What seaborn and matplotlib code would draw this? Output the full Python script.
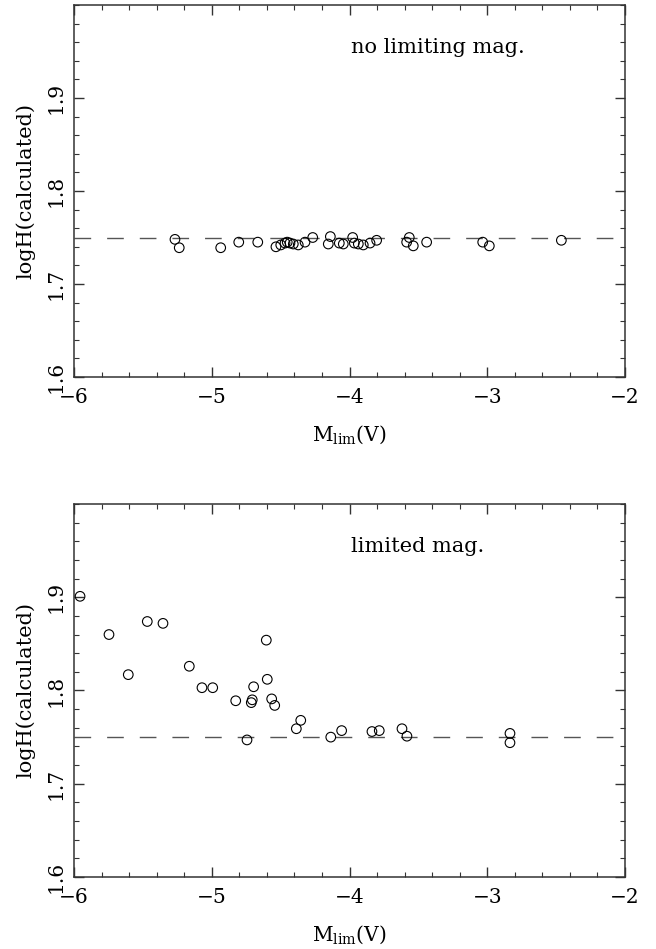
import matplotlib
matplotlib.use("Agg")
import matplotlib.pyplot as plt
import seaborn as sns
import pandas as pd
from matplotlib.ticker import MultipleLocator

# --- data ---
top_mlim = [-5.267, -5.236, -4.935, -4.804, -4.666, -4.534, -4.499, -4.468, -4.452,
            -4.432, -4.408, -4.372, -4.323, -4.267, -4.139, -4.154, -4.074, -4.045,
            -3.977, -3.965, -3.936, -3.900, -3.851, -3.803, -3.566, -3.585, -3.537,
            -3.440, -3.033, -2.985, -2.462]
top_logH = [1.748, 1.739, 1.739, 1.745, 1.745, 1.740, 1.742, 1.744, 1.745,
            1.744, 1.743, 1.742, 1.745, 1.750, 1.751, 1.743, 1.744, 1.743,
            1.750, 1.744, 1.743, 1.742, 1.744, 1.747, 1.750, 1.745, 1.741,
            1.745, 1.745, 1.741, 1.747]

bot_mlim = [-5.956, -5.746, -5.606, -5.468, -5.354, -5.163, -5.071, -4.993, -4.826,
            -4.744, -4.713, -4.706, -4.696, -4.604, -4.597, -4.565, -4.543, -4.386,
            -4.354, -4.136, -4.057, -3.837, -3.784, -3.619, -3.583, -2.835, -2.835]
bot_logH = [1.901, 1.860, 1.817, 1.874, 1.872, 1.826, 1.803, 1.803, 1.789,
            1.747, 1.787, 1.790, 1.804, 1.854, 1.812, 1.791, 1.784, 1.759,
            1.768, 1.750, 1.757, 1.756, 1.757, 1.759, 1.751, 1.754, 1.744]

ref_level = 1.75
panel_titles = ["no limiting mag.", "limited mag."]
xlabel = r"$\mathrm{M_{lim}(V)}$"
ylabel = "logH(calculated)"

sns.set_theme(style="ticks")
plt.rcParams["font.family"] = ["DejaVu Serif"]
plt.rcParams["mathtext.fontset"] = "dejavuserif"
plt.rcParams["text.color"] = "black"
plt.rcParams["axes.labelcolor"] = "black"

fig = plt.figure(figsize=(6.56, 9.49), dpi=100)
W, H = 656, 949
def axrect(l, t, r, b):
    return [l / W, 1 - b / H, (r - l) / W, (b - t) / H]

ax1 = fig.add_axes(axrect(74, 5, 625, 377))
ax2 = fig.add_axes(axrect(74, 504, 625, 877))

datasets = [(top_mlim, top_logH), (bot_mlim, bot_logH)]
for ax, (xs, ys), title in zip([ax1, ax2], datasets, panel_titles):
    df = pd.DataFrame({"M": xs, "logH": ys})
    ax.axhline(ref_level, color="#555555", lw=1.0, dashes=(12, 11.5), zorder=1)
    sns.scatterplot(data=df, x="M", y="logH", ax=ax, s=48, marker="o",
                    facecolor="none", edgecolor="black", linewidth=0.8, zorder=3)
    ax.set_xlim(-6, -2)
    ax.set_ylim(1.6, 2.0)
    ax.xaxis.set_major_locator(MultipleLocator(1))
    ax.xaxis.set_minor_locator(MultipleLocator(0.2))
    ax.yaxis.set_major_locator(MultipleLocator(0.1))
    ax.yaxis.set_minor_locator(MultipleLocator(0.02))
    ax.set_yticks([1.6, 1.7, 1.8, 1.9])
    ax.set_yticklabels(["1.6", "1.7", "1.8", "1.9"], rotation=90, va="center")
    ax.tick_params(which="both", direction="in", top=True, right=True,
                   colors="#333333", labelcolor="black", labelsize=14.5)
    ax.tick_params(which="major", length=7, width=1)
    ax.tick_params(which="minor", length=3.6, width=0.8)
    ax.tick_params(axis="x", pad=8)
    ax.tick_params(axis="y", pad=6)
    for sp in ax.spines.values():
        sp.set_color("#333333")
        sp.set_linewidth(1.1)
    ax.set_xlabel(xlabel, fontsize=14.5, labelpad=12, color="black")
    ax.set_ylabel(ylabel, fontsize=15, labelpad=8, color="black")
    ax.text(0.503, 0.87, title, transform=ax.transAxes, fontsize=15,
            ha="left", va="baseline", color="black")

fig.savefig("out.png", dpi=100)
